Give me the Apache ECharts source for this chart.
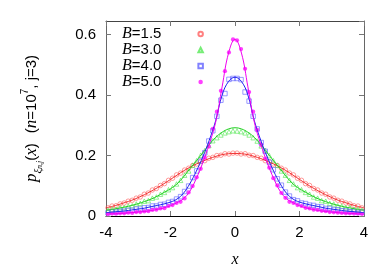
<!DOCTYPE html>
<html>
<head>
<meta charset="utf-8">
<script src="https://cdn.jsdelivr.net/npm/echarts@6/dist/echarts.min.js"></script>
<style>html,body{margin:0;padding:0;background:#fff}#c{width:390px;height:273px}</style>
</head>
<body>
<div id="c"></div>
<script>
// ---- data ----
const seriesNames = ['B=1.5', 'B=3.0', 'B=4.0', 'B=5.0'];
const xTicks = [-4, -2, 0, 2, 4];
const yTicks = [0, 0.2, 0.4, 0.6];

// smooth curves
const curveX = [-4,-3.8,-3.6,-3.4,-3.2,-3,-2.8,-2.6,-2.4,-2.2,-2,-1.8,-1.6,-1.4,-1.2,-1,-0.8,-0.6,-0.4,-0.2,0,
  0.2,0.4,0.6,0.8,1,1.2,1.4,1.6,1.8,2,2.2,2.4,2.6,2.8,3,3.2,3.4,3.6,3.8,4];
const curveB15 = [.027,.032,.038,.045,.052,.061,.071,.082,.094,.107,.121,.135,.149,.161,.172,.181,.190,.197,.203,.206,.207,
  .206,.203,.197,.190,.181,.172,.161,.149,.135,.121,.107,.094,.082,.071,.061,.052,.045,.038,.032,.027];
const curveB30 = [.019,.022,.026,.030,.035,.041,.048,.056,.066,.078,.090,.106,.129,.156,.182,.209,.236,.260,.277,.288,.292,
  .288,.277,.260,.236,.209,.182,.156,.129,.106,.090,.078,.066,.056,.048,.041,.035,.030,.026,.022,.019];
const curveB40 = [.011,.013,.015,.017,.020,.023,.026,.031,.035,.040,.046,.056,.075,.107,.148,.195,.250,.315,.400,.445,.459,
  .445,.400,.315,.250,.195,.148,.107,.075,.056,.046,.040,.035,.031,.026,.023,.020,.017,.015,.013,.011];
const curveB50 = [.0066,.0075,.0085,.0095,.011,.013,.015,.018,.022,.027,.034,.044,.057,.082,.124,.176,.237,.310,.427,.539,.585,
  .539,.427,.310,.237,.176,.124,.082,.057,.044,.034,.027,.022,.018,.015,.013,.011,.0095,.0085,.0075,.0066];

// sampled points (histogram bin centres)
const pointX = [-3.9375,-3.8125,-3.6875,-3.5625,-3.4375,-3.3125,-3.1875,-3.0625,-2.9375,-2.8125,-2.6875,-2.5625,
  -2.4375,-2.3125,-2.1875,-2.0625,-1.9375,-1.8125,-1.6875,-1.5625,-1.4375,-1.3125,-1.1875,-1.0625,-0.9375,-0.8125,
  -0.6875,-0.5625,-0.4375,-0.3125,-0.1875,-0.0625,0.0625,0.1875,0.3125,0.4375,0.5625,0.6875,0.8125,0.9375,1.0625,
  1.1875,1.3125,1.4375,1.5625,1.6875,1.8125,1.9375,2.0625,2.1875,2.3125,2.4375,2.5625,2.6875,2.8125,2.9375,3.0625,
  3.1875,3.3125,3.4375,3.5625,3.6875,3.8125,3.9375];
const pointsB15 = [.027,.033,.034,.040,.043,.049,.052,.059,.063,.072,.076,.086,.091,.101,.107,.118,.125,.136,.142,.152,
  .158,.167,.172,.180,.183,.191,.194,.200,.201,.206,.205,.208,
  .208,.205,.206,.201,.200,.194,.191,.183,.180,.172,.167,.158,.152,.142,.136,.125,.118,.107,.101,.091,
  .086,.076,.072,.063,.059,.052,.049,.043,.040,.034,.033,.027];
const pointsB30 = [.019,.023,.023,.028,.028,.033,.034,.040,.042,.049,.051,.059,.063,.072,.078,.087,.094,.106,.118,.135,
  .149,.168,.183,.201,.216,.233,.249,.259,.268,.275,.279,.282,
  .281,.279,.275,.268,.259,.248,.232,.217,.200,.183,.168,.149,.135,.118,.106,.094,.087,.078,.072,.063,
  .059,.051,.049,.042,.040,.034,.033,.028,.028,.023,.023,.019];
const pointsB40 = [.011,.014,.013,.016,.016,.019,.019,.023,.023,.027,.028,.033,.033,.038,.039,.045,.048,.056,.064,.081,
  .099,.127,.149,.182,.209,.248,.282,.330,.383,.405,.452,.455,
  .455,.451,.410,.380,.330,.288,.243,.214,.178,.153,.123,.102,.079,.066,.054,.050,.043,.041,.036,.035,
  .031,.030,.025,.025,.021,.021,.017,.018,.014,.015,.012,.013];
const pointsB50 = [.0065,.008,.0075,.009,.009,.011,.010,.013,.013,.015,.016,.020,.021,.025,.026,.033,.036,.043,.047,.058,
  .078,.099,.128,.156,.193,.230,.288,.345,.414,.479,.541,.584,
  .581,.552,.487,.410,.345,.285,.235,.190,.160,.125,.101,.076,.060,.047,.043,.036,.033,.027,.025,.021,
  .020,.017,.016,.013,.012,.011,.010,.009,.009,.008,.008,.007];

// ---- styling ----
const lineColors = ['#f03030', '#20d020', '#2020f0', '#f000f0'];
const markColors = ['#ff6060', '#55e855', '#6262ff', '#ff10ff'];
const curves = [curveB15, curveB30, curveB40, curveB50];
const points = [pointsB15, pointsB30, pointsB40, pointsB50];
const symbols = ['circle', 'triangle', 'rect', 'circle'];
const filled = [false, false, false, true];
const symSizes = [4.5, 4.5, 4.5, 4.2];

const pair = (xs, ys) => xs.map((x, i) => [x, ys[i]]);

const series = [];
for (let k = 0; k < 4; k++) {
  series.push({
    name: seriesNames[k],
    type: 'scatter',
    data: pair(pointX, points[k]),
    symbol: symbols[k],
    symbolSize: symSizes[k],
    itemStyle: filled[k]
      ? { color: markColors[k], borderWidth: 0 }
      : { color: 'rgba(0,0,0,0)', borderColor: markColors[k], borderWidth: 0.8 },
    emphasis: { disabled: true },
    silent: true,
    z: 2
  });
  series.push({
    name: 'fit ' + seriesNames[k],
    type: 'line',
    data: pair(curveX, curves[k]),
    smooth: 0.4,
    showSymbol: false,
    lineStyle: { color: lineColors[k], width: 1 },
    itemStyle: { color: lineColors[k] },
    silent: true,
    z: 3
  });
}

const sans = 'Liberation Sans';
const serif = 'Liberation Serif';
const tickColor = '#777';

const chart = echarts.init(document.getElementById('c'), null, { renderer: 'canvas' });
chart.setOption({
  animation: false,
  backgroundColor: '#fff',
  grid: { left: 106, right: 26, top: 21, bottom: 56 },
  legend: {
    data: seriesNames,
    orient: 'vertical',
    left: 122,
    top: 26,
    padding: 0,
    itemGap: 0,
    itemWidth: 4.5,
    itemHeight: 4.5,
    align: 'right',
    selectedMode: false,
    formatter: (n) => '{b|B}{t|' + n.slice(1) + '}',
    textStyle: {
      rich: {
        b: { fontFamily: serif, fontStyle: 'italic', fontSize: 16, color: '#000', lineHeight: 16.7 },
        t: { fontFamily: sans, fontSize: 15, color: '#000', lineHeight: 16.7, padding: [0, 32, 0, 0] }
      }
    }
  },
  xAxis: [{
    type: 'value', min: -4, max: 4, interval: 2, position: 'bottom',
    axisLine: { show: true, onZero: false, lineStyle: { color: '#000', width: 1 } },
    axisTick: { show: true, inside: true, length: 5, lineStyle: { color: tickColor } },
    axisLabel: { fontFamily: sans, fontSize: 15, color: '#000', margin: 9 },
    splitLine: { show: false },
    name: 'x', nameLocation: 'middle', nameGap: 36,
    nameTextStyle: { fontFamily: serif, fontStyle: 'italic', fontSize: 16, color: '#000' }
  }, {
    type: 'value', min: -4, max: 4, interval: 2, position: 'top',
    axisLine: { show: true, onZero: false, lineStyle: { color: '#444', width: 1 } },
    axisTick: { show: true, inside: true, length: 5, lineStyle: { color: tickColor } },
    axisLabel: { show: false }, splitLine: { show: false }
  }],
  yAxis: [{
    type: 'value', min: 0, max: 0.645, interval: 0.2, position: 'left',
    axisLine: { show: true, onZero: false, lineStyle: { color: '#666', width: 1 } },
    axisTick: { show: true, inside: true, length: 5, lineStyle: { color: tickColor } },
    axisLabel: { fontFamily: sans, fontSize: 15, color: '#000', margin: 10, showMaxLabel: false,
      formatter: (v) => (yTicks.some(t => Math.abs(t - v) < 1e-6) ? String(Math.round(v * 10) / 10) : '') },
    splitLine: { show: false },
    name: '{pi|p}{sb|ξ}{ss|n,j}{r|(}{ri|x}{r|)}   {r|(}{ri|n}{r|=10}{sp|7}{r|, j=3)}',
    nameLocation: 'middle', nameRotate: 90, nameGap: 62,
    nameTextStyle: {
      rich: {
        pi: { fontFamily: serif, fontStyle: 'italic', fontSize: 17, color: '#000', lineHeight: 24 },
        ri: { fontFamily: serif, fontStyle: 'italic', fontSize: 17, color: '#000', lineHeight: 24 },
        r: { fontFamily: sans, fontSize: 15, color: '#000', lineHeight: 24 },
        sb: { fontFamily: serif, fontStyle: 'italic', fontSize: 11, color: '#000', lineHeight: 11, verticalAlign: 'bottom' },
        ss: { fontFamily: serif, fontStyle: 'italic', fontSize: 8, color: '#000', lineHeight: 7, verticalAlign: 'bottom' },
        sp: { fontFamily: sans, fontSize: 10, color: '#000', lineHeight: 10, verticalAlign: 'top' }
      }
    }
  }, {
    type: 'value', min: 0, max: 0.645, interval: 0.2, position: 'right',
    axisLine: { show: true, onZero: false, lineStyle: { color: '#666', width: 1 } },
    axisTick: { show: true, inside: true, length: 5, lineStyle: { color: tickColor } },
    axisLabel: { show: false }, splitLine: { show: false }
  }],
  series: series
});
</script>
</body>
</html>
